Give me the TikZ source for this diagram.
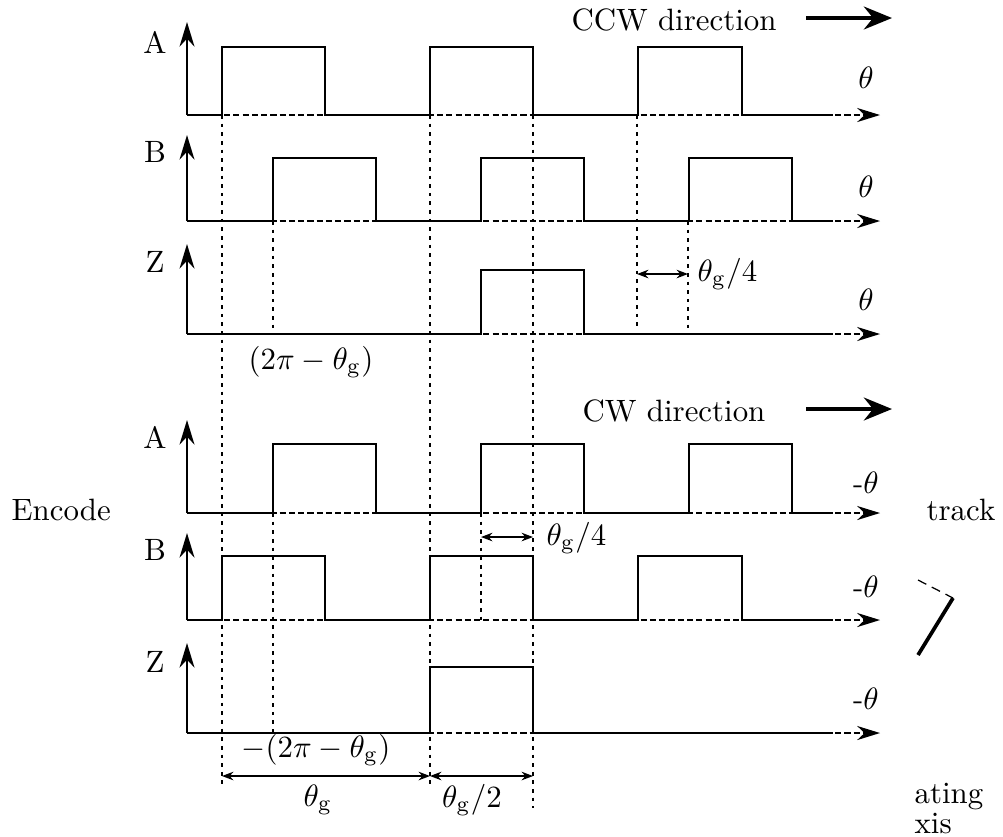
\documentclass[tikz,border=0pt]{standalone}
\usepackage{amsmath}
\usepackage{amssymb}
\usepackage{tikz}
\usetikzlibrary{arrows.meta, positioning, calc}
\tikzset{
  senal/.style={line width=0.85pt},
  ejev/.style={-{Stealth[length=2.8mm, width=1.7mm]}, line width=0.85pt},
  ejeh/.style={-{Stealth[length=2.6mm, width=1.6mm]}, line width=0.6pt, dash pattern=on 2pt off 1pt},
  guia/.style={line width=0.6pt, dash pattern=on 1.2pt off 1.6pt},
  cota/.style={{Stealth[length=1.3mm]}-{Stealth[length=1.3mm]}, line width=0.5pt},
  sentido/.style={-{Stealth[length=3.2mm, width=2.6mm]}, line width=1.3pt},
  etiq/.style={inner sep=1pt},
}
\begin{document}
\begin{tikzpicture}[x=0.324pt, y=-0.324pt]
    \useasboundingbox (0,0) rectangle (1003,836);
    % lineas guia
    \draw[guia] (222,115) -- (222,788);
    \draw[guia] (430,115) -- (430,788);
    \draw[guia] (533,115) -- (533,808);
    \draw[guia] (273,221) -- (273,334);
    \draw[guia] (273,513) -- (273,733);
    \draw[guia] (637,115) -- (637,328);
    \draw[guia] (688,221) -- (688,328);
    \draw[guia] (481,513) -- (481,620);
    % sentido CCW
    \node[etiq] (ccw) at (674,20) {CCW direction};
    \coordinate (ccwa) at (806,18);
    \coordinate (ccwb) at (892,18);
    \draw[sentido] (ccwa) -- (ccwb);
    % canal A (CCW)
    \node[etiq] (a1) at (155,42) {A};
    \draw[ejeh] (187,115) -- (880,115);
    \draw[ejev] (187,115) -- (187,22);
    \draw[senal] (187,115) \foreach \ini/\fin in {222/325,430/533,638/742}{ -- (\ini,115) -- (\ini,47) -- (\fin,47) -- (\fin,115)} -- (833,115);
    \node[etiq] (t1) at (866,78) {$\theta$};
    % canal B (CCW)
    \node[etiq] (b1) at (155,152) {B};
    \draw[ejeh] (187,221) -- (880,221);
    \draw[ejev] (187,221) -- (187,135);
    \draw[senal] (187,221) \foreach \ini/\fin in {273/376,481/584,689/792}{ -- (\ini,221) -- (\ini,158) -- (\fin,158) -- (\fin,221)} -- (833,221);
    \node[etiq] (t2) at (866,187) {$\theta$};
    % canal Z (CCW)
    \node[etiq] (z1) at (155,262) {Z};
    \draw[ejeh] (187,334) -- (880,334);
    \draw[ejev] (187,334) -- (187,244);
    \draw[senal] (187,334) -- (481,334) -- (481,270) -- (584,270) -- (584,334) -- (833,334);
    \node[etiq] (t3) at (866,300) {$\theta$};
    \coordinate (q1) at (637,274);
    \coordinate (q2) at (688,274);
    \draw[cota] (q1) -- (q2);
    \node[etiq, anchor=west] (g4a) at (694,274) {$\theta_{\mathrm{g}}/4$};
    \node[etiq] (d1) at (311,362) {$(2\pi - \theta_{\mathrm{g}})$};
    % sentido CW
    \node[etiq] (cw) at (674,411) {CW direction};
    \coordinate (cwa) at (806,409);
    \coordinate (cwb) at (892,409);
    \draw[sentido] (cwa) -- (cwb);
    % canal A (CW)
    \node[etiq] (a2) at (155,437) {A};
    \draw[ejeh] (187,513) -- (880,513);
    \draw[ejev] (187,513) -- (187,420);
    \draw[senal] (187,513) \foreach \ini/\fin in {273/376,481/584,689/792}{ -- (\ini,513) -- (\ini,444) -- (\fin,444) -- (\fin,513)} -- (833,513);
    \node[etiq] (t4) at (866,483) {-$\theta$};
    \coordinate (q3) at (481,537);
    \coordinate (q4) at (533,537);
    \draw[cota] (q3) -- (q4);
    \node[etiq, anchor=west] (g4b) at (543,538) {$\theta_{\mathrm{g}}/4$};
    % canal B (CW)
    \node[etiq] (b2) at (155,550) {B};
    \draw[ejeh] (187,620) -- (880,620);
    \draw[ejev] (187,620) -- (187,533);
    \draw[senal] (187,620) \foreach \ini/\fin in {222/325,430/533,638/742}{ -- (\ini,620) -- (\ini,556) -- (\fin,556) -- (\fin,620)} -- (833,620);
    \node[etiq] (t5) at (866,587) {-$\theta$};
    % canal Z (CW)
    \node[etiq] (z2) at (155,662) {Z};
    \draw[ejeh] (187,733) -- (880,733);
    \draw[ejev] (187,733) -- (187,643);
    \draw[senal] (187,733) -- (430,733) -- (430,667) -- (533,667) -- (533,733) -- (833,733);
    \node[etiq] (t6) at (866,699) {-$\theta$};
    \node[etiq] (d2) at (316,750) {$-(2\pi - \theta_{\mathrm{g}})$};
    % cotas inferiores
    \coordinate (c1) at (222,776);
    \coordinate (c2) at (430,776);
    \coordinate (c3) at (533,776);
    \draw[cota] (c1) -- (c2);
    \draw[cota] (c2) -- (c3);
    \node[etiq] (g1) at (318,800) {$\theta_{\mathrm{g}}$};
    \node[etiq] (g2) at (472,800) {$\theta_{\mathrm{g}}/2$};
    % restos de la figura de fondo
    \node[etiq, anchor=west] (enc) at (8,510) {Encode};
    \node[etiq, anchor=east] (trk) at (999,510) {track};
    \node[inner sep=0pt, anchor=west] (rot) at (914,797) {ating};
    \node[inner sep=0pt, anchor=west] (eje) at (914,824) {xis};
    \draw[line width=0.4pt, densely dashed] (918,580) -- (953,598);
    \draw[line width=1.2pt] (953,598) -- (918,655);
\end{tikzpicture}
\end{document}
